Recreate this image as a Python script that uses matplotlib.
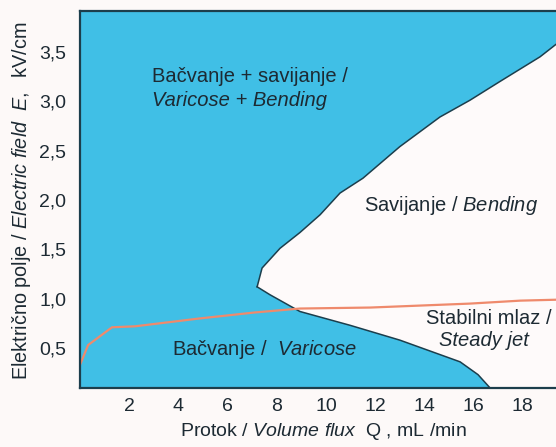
import matplotlib
matplotlib.use("Agg")
import matplotlib.pyplot as plt

plt.rcParams["font.family"] = ["Liberation Sans", "DejaVu Sans"]
plt.rcParams["mathtext.fontset"] = "custom"
plt.rcParams["mathtext.rm"] = "Liberation Sans"
plt.rcParams["mathtext.it"] = "Liberation Sans:italic"

# upper boundary of the steady/bending zone (from the nose up to the right edge)
upper_q = [7.2, 7.4, 8.13, 8.94, 9.76, 10.57, 11.5, 13.0, 14.63, 15.85, 17.07, 18.7, 19.47]
upper_e = [1.12, 1.31, 1.51, 1.67, 1.85, 2.07, 2.22, 2.54, 2.84, 3.01, 3.2, 3.45, 3.6]

# lower boundary (varicose zone edge), from the nose down to the axis
lower_q = [7.2, 7.72, 8.94, 10.98, 13.0, 15.45, 16.18, 16.67]
lower_e = [1.12, 1.04, 0.87, 0.73, 0.58, 0.36, 0.23, 0.095]

# steady jet onset line
jet_q = [0.0, 0.33, 1.3, 2.24, 4.88, 7.1, 8.94, 11.8, 15.85, 17.9, 19.47]
jet_e = [0.33, 0.53, 0.71, 0.72, 0.80, 0.86, 0.90, 0.91, 0.95, 0.98, 0.99]

x_ticks = [2, 4, 6, 8, 10, 12, 14, 16, 18]
y_ticks = [0.5, 1.0, 1.5, 2.0, 2.5, 3.0, 3.5]
q_max, e_min, e_max = 19.47, 0.095, 3.914

blue = "#40bfe6"
edge = "#1c3e4c"
txt = "#1d2a33"
bg = "#fdf9f8"

fig = plt.figure(figsize=(5.56, 4.47), dpi=100, facecolor=bg)
ax = fig.add_axes([80 / 556, 59 / 447, 479 / 556, 377 / 447])
ax.set_facecolor(bg)

# blue background over the whole field, white zone on top of it
ax.fill_between([0, q_max], e_min, e_max, color=blue, zorder=1, lw=0)
zone_q = upper_q + [q_max] + lower_q[::-1]
zone_e = upper_e + [e_min] + lower_e[::-1]
ax.fill(zone_q, zone_e, color="#fefafa", zorder=1.2, lw=0)

ax.plot(upper_q, upper_e, color=edge, lw=1.1, zorder=2)
ax.plot(lower_q, lower_e, color=edge, lw=1.1, zorder=2)
ax.plot(jet_q, jet_e, color="#ef8a6c", lw=1.6, zorder=2.1)

ax.set_xlim(0, q_max)
ax.set_ylim(e_min, e_max)
ax.set_axisbelow(True)
ax.set_xticks(x_ticks)
ax.set_xticklabels([str(v) for v in x_ticks])
ax.set_yticks(y_ticks)
ax.set_yticklabels([f"{v:.1f}".replace(".", ",") for v in y_ticks])
ax.tick_params(direction="in", length=5, width=1, color=edge,
               labelsize=14, labelcolor=txt, right=True, pad=10)
ax.tick_params(axis="x", pad=7)
for s in ax.spines.values():
    s.set_color(edge)
    s.set_linewidth(1.6)
    s.set_zorder(3)

fs = 14.5
ax.text(2.93, 3.25, "Bačvanje + savijanje /", fontsize=fs, color=txt,
        va="center", ha="left", zorder=4)
ax.text(2.93, 3.01, "Varicose + Bending", fontsize=fs, color=txt,
        style="italic", va="center", ha="left", zorder=4)
ax.text(15.1, 1.94, r"Savijanje / $\mathit{Bending}$", fontsize=fs, color=txt,
        va="center", ha="center", zorder=4)
ax.text(16.6, 0.80, "Stabilni mlaz /", fontsize=fs, color=txt,
        va="center", ha="center", zorder=4)
ax.text(16.4, 0.58, "Steady jet", fontsize=fs, color=txt, style="italic",
        va="center", ha="center", zorder=4)
ax.text(3.74, 0.48, r"Bačvanje /  $\mathit{Varicose}$", fontsize=fs, color=txt,
        va="center", ha="left", zorder=4)

fig.text(323 / 556, 1 - 432 / 447,
         r"Protok / $\mathit{Volume\ flux}$  Q , mL /min",
         fontsize=14, color=txt, ha="center", va="center")
fig.text(22 / 556, 1 - 201 / 447,
         r"Električno polje / $\mathit{Electric\ field\ \ E,}$  kV/cm",
         fontsize=14.3, color=txt, ha="center", va="center", rotation=90)

fig.savefig("out.png", dpi=100, facecolor=bg)
